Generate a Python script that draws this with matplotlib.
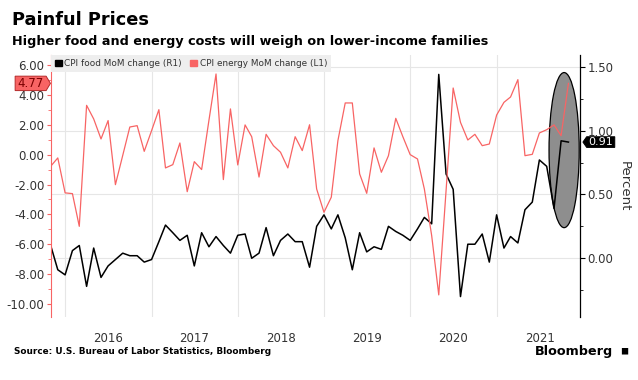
import matplotlib
matplotlib.use("Agg")
import matplotlib.pyplot as plt
import matplotlib.dates as mdates
import matplotlib.ticker as mticker
from matplotlib.patches import Ellipse, Patch
from matplotlib.path import Path
import pandas as pd

# monthly readings, Oct 2015 .. Oct 2021
dates = pd.date_range("2015-10-31", periods=73, freq="ME")

energy = [-0.78, -0.22, -2.56, -2.61, -4.80, 3.30, 2.39, 1.05, 2.28, -2.01,
          -0.05, 1.85, 1.94, 0.22, 1.60, 3.01, -0.89, -0.67, 0.78, -2.48,
          -0.47, -1.00, 2.30, 5.40, -1.67, 3.06, -0.69, 1.99, 1.20, -1.50,
          1.36, 0.60, 0.16, -0.89, 1.20, 0.27, 2.00, -2.30, -3.86, -2.85,
          0.94, 3.46, 3.46, -1.29, -2.59, 0.45, -1.18, -0.07, 2.43, 1.20,
          0.00, -0.29, -2.30, -5.42, -9.39, -2.40, 4.46, 2.16, 0.98, 1.36,
          0.60, 0.71, 2.65, 3.50, 3.86, 5.02, -0.07, 0.02, 1.45, 1.67,
          1.99, 1.27, 4.77]

food = [0.10, -0.09, -0.13, 0.06, 0.10, -0.22, 0.08, -0.15, -0.06, -0.01,
        0.04, 0.02, 0.02, -0.03, -0.01, 0.13, 0.26, 0.20, 0.14, 0.18,
        -0.06, 0.20, 0.09, 0.17, 0.10, 0.04, 0.18, 0.19, 0.00, 0.04,
        0.24, 0.02, 0.14, 0.19, 0.13, 0.13, -0.07, 0.25, 0.34, 0.23,
        0.34, 0.16, -0.09, 0.20, 0.05, 0.09, 0.07, 0.25, 0.21, 0.18,
        0.14, 0.23, 0.32, 0.27, 1.44, 0.66, 0.54, -0.30, 0.11, 0.11,
        0.19, -0.03, 0.34, 0.08, 0.17, 0.12, 0.38, 0.44, 0.77, 0.72,
        0.39, 0.92, 0.91]

RED = "#f86464"
GRID = "#e6e6e6"
TEXT = "#333333"


def tag_right(x0, y0, width, height, mutation_size):
    pad = 0.2 * mutation_size
    x0, y0 = x0 - pad, y0 - pad * 0.3
    x1, y1 = x0 + width + 2 * pad, y0 + height + pad * 0.6
    ym = (y0 + y1) / 2
    tip = (y1 - y0) * 0.3
    return Path([(x0, y0), (x1, y0), (x1 + tip, ym), (x1, y1), (x0, y1), (x0, y0)],
                closed=True)


def tag_left(x0, y0, width, height, mutation_size):
    pad = 0.15 * mutation_size
    x0, y0 = x0 - pad, y0 - pad * 0.2
    x1, y1 = x0 + width + 2 * pad, y0 + height + pad * 0.4
    ym = (y0 + y1) / 2
    tip = (y1 - y0) * 0.35
    return Path([(x0, y0), (x1, y0), (x1, y1), (x0, y1), (x0 - tip, ym), (x0, y0)],
                closed=True)


fig = plt.figure(figsize=(6.38, 3.8), dpi=100)
# ax holds food (right scale, drawn first), ax2 holds energy (left scale)
ax = fig.add_axes([50.7 / 638, 1 - 317 / 380, 529.3 / 638, 262 / 380])
ax2 = ax.twinx()
ax.yaxis.tick_right()
ax.yaxis.set_label_position("right")
ax2.yaxis.tick_left()

# highlight ellipse over the latest readings
ax.add_patch(Ellipse((0.970, 0.637), 0.057, 0.592, transform=ax.transAxes,
                     facecolor="#8e8e8e", edgecolor="black", lw=0.9, zorder=1))

ax.plot(dates, food, color="black", lw=1.1, zorder=3)
ax2.plot(dates, energy, color=RED, lw=0.9, zorder=2)

ax.set_xlim(pd.Timestamp("2015-10-31"), pd.Timestamp("2021-12-19"))
ax2.set_ylim(-10.87, 6.67)
ax.set_ylim(-0.46, 1.592)

# x axis: grid at year starts, labels mid-year
ax.xaxis.set_major_locator(mdates.YearLocator())
ax.xaxis.set_minor_locator(mdates.MonthLocator(bymonth=7, bymonthday=1))
ax.xaxis.set_major_formatter(mticker.NullFormatter())
ax.xaxis.set_minor_formatter(mdates.DateFormatter("%Y"))
ax.tick_params(axis="x", which="both", length=0, pad=11, labelsize=8.5,
               labelcolor=TEXT)
ax.grid(axis="x", which="major", color=GRID, lw=0.8, zorder=0)
ax.grid(axis="y", which="major", color=GRID, lw=0.8, zorder=0)
ax.set_axisbelow(True)

ax.yaxis.set_major_locator(mticker.MultipleLocator(0.5))
ax.yaxis.set_minor_locator(mticker.MultipleLocator(0.25))
ax.yaxis.set_major_formatter(mticker.FormatStrFormatter("%.2f"))
ax.tick_params(axis="y", which="major", length=3.5, labelsize=8.5,
               labelcolor=TEXT, pad=2)
ax.tick_params(axis="y", which="minor", length=2)
ax.set_ylabel("Percent", rotation=270, fontsize=9.5, color=TEXT, labelpad=12)

ax2.yaxis.set_major_locator(mticker.MultipleLocator(2))
ax2.yaxis.set_minor_locator(mticker.MultipleLocator(1))
ax2.yaxis.set_major_formatter(mticker.FormatStrFormatter("%.2f"))
ax2.tick_params(axis="y", which="major", length=3, color=RED, labelsize=8.5,
                labelcolor=TEXT, pad=1.5)
ax2.tick_params(axis="y", which="minor", length=2, color=RED)

for a in (ax, ax2):
    a.spines["top"].set_visible(False)
    a.spines["bottom"].set_visible(False)
ax.spines["left"].set_visible(False)
ax.spines["right"].set_linewidth(0.9)
ax2.spines["right"].set_visible(False)
ax2.spines["left"].set_color(RED)
ax2.spines["left"].set_linewidth(0.8)

# last value tags
ax2.annotate(f"{energy[-1]:.2f}", xy=(0, energy[-1]),
             xycoords=("axes fraction", "data"), xytext=(-5, 0),
             textcoords="offset points", ha="right", va="center",
             fontsize=8.5, color="#7a0000",
             bbox=dict(boxstyle=tag_right, fc=RED, ec="#b52a2a", lw=0.7))
ax.annotate(f"{food[-1]:.2f}", xy=(1, food[-1]),
            xycoords=("axes fraction", "data"), xytext=(6, 0),
            textcoords="offset points", ha="left", va="center",
            fontsize=8, color="white", annotation_clip=False,
            bbox=dict(boxstyle=tag_left, fc="black", ec="black", lw=0.7))

leg = ax2.legend(handles=[Patch(color="black"), Patch(color=RED)],
                 labels=["CPI food MoM change (R1)", "CPI energy MoM change (L1)"],
                 loc="upper left", bbox_to_anchor=(0, 1), borderaxespad=0,
                 ncol=2, fontsize=6.4, frameon=True, fancybox=False,
                 facecolor="#eeeeee", edgecolor="none", framealpha=1,
                 handlelength=0.8, handleheight=0.8, handletextpad=0.3,
                 columnspacing=0.9, borderpad=0.45)
for t in leg.get_texts():
    t.set_color(TEXT)

fig.text(12 / 638, 1 - 20 / 380, "Painful Prices", fontsize=12.8,
         fontweight="bold", va="center", ha="left", color="black")
fig.text(12 / 638, 1 - 42 / 380,
         "Higher food and energy costs will weigh on lower-income families",
         fontsize=9.2, fontweight="bold", va="center", ha="left", color="black")
fig.text(14 / 638, 1 - 352 / 380,
         "Source: U.S. Bureau of Labor Statistics, Bloomberg",
         fontsize=6.4, fontweight="bold", va="center", ha="left", color="black")
fig.text(613 / 638, 1 - 351 / 380, "Bloomberg", fontsize=9.2,
         fontweight="bold", va="center", ha="right", color="black")
fig.text(628 / 638, 1 - 350 / 380, "\u25fc", fontsize=7, va="center",
         ha="right", color="black")

fig.savefig("out.png", dpi=100)
